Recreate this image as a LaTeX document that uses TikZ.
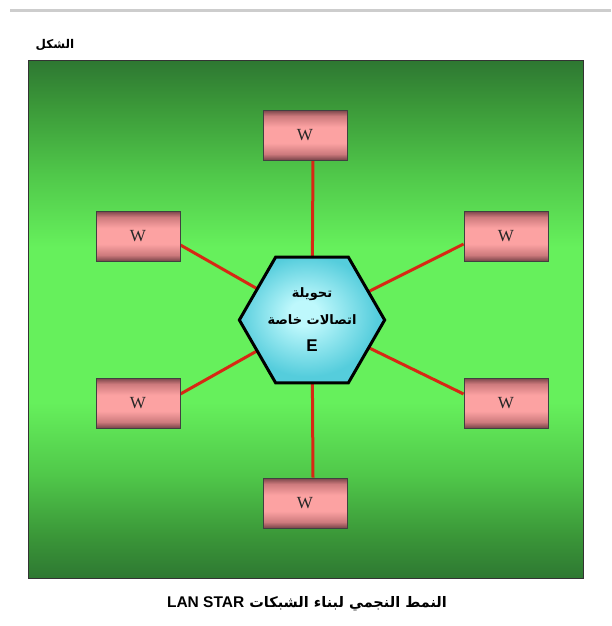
\documentclass[tikz,border=0pt]{standalone}
\usepackage{fontspec}
\usetikzlibrary{shapes.geometric,backgrounds}
\TeXXeTstate=1
\newfontfamily\arabicfont[Script=Arabic]{DejaVu Sans}
\newfontfamily\latinsans{Liberation Sans}
\setmainfont{Liberation Serif}
\definecolor{gA}{RGB}{102,240,92}
\definecolor{gB}{RGB}{80,200,74}
\definecolor{gC}{RGB}{58,150,56}
\definecolor{gD}{RGB}{46,120,50}
\definecolor{pD}{RGB}{120,68,72}
\definecolor{pM}{RGB}{205,122,125}
\definecolor{pL}{RGB}{252,162,162}
\definecolor{cA}{RGB}{190,248,252}
\definecolor{cB}{RGB}{85,205,220}
\definecolor{linkred}{RGB}{215,40,20}
\definecolor{topgray}{RGB}{205,205,205}
\pgfdeclareverticalshading{bgshade}{100bp}{color(0bp)=(gD); color(25bp)=(gD); color(29bp)=(gC); color(35bp)=(gB); color(42bp)=(gA); color(57bp)=(gA); color(64bp)=(gB); color(71bp)=(gC); color(75bp)=(gD); color(100bp)=(gD)}
\pgfdeclareverticalshading{boxshade}{100bp}{color(0bp)=(pD); color(25bp)=(pD); color(31bp)=(pM); color(42bp)=(pL); color(58bp)=(pL); color(69bp)=(pM); color(75bp)=(pD); color(100bp)=(pD)}
\pgfdeclareradialshading{hexshade}{\pgfpoint{-3bp}{3bp}}{color(0bp)=(cA); color(5bp)=(cA); color(24bp)=(cB); color(50bp)=(cB)}
\tikzset{
  wbox/.style={draw=black!75, line width=0.8pt, shading=boxshade, minimum width=84pt, minimum height=50pt, inner sep=0pt, font=\fontsize{17}{17}\selectfont, text=black!85},
  hexnode/.style={regular polygon, regular polygon sides=6, minimum size=134pt, inner sep=0pt, draw=black, line width=3pt, shading=hexshade, align=center, font=\arabicfont\bfseries\fontsize{13}{27}\selectfont},
  link/.style={draw=linkred, line width=3pt}
}
\begin{document}
\begin{tikzpicture}[x=1pt,y=-1pt]
\useasboundingbox (0,0) rectangle (611,626);
\node[hexnode] (hex) at (312,320) {\beginR تحويلة\endR\\\beginR اتصالات خاصة\endR\\{\latinsans\bfseries\fontsize{17}{17}\selectfont E}};
\node[wbox] (top) at (305,135) {W};
\node[wbox] (lt) at (138,236) {W};
\node[wbox] (rt) at (506,236) {W};
\node[wbox] (lb) at (138,403) {W};
\node[wbox] (rb) at (506,403) {W};
\node[wbox] (bot) at (305,503) {W};
\node (title) at (55,45) {\arabicfont\bfseries\fontsize{12}{12}\selectfont\beginR الشكل\endR};
\node (caption) at (307,604) {\arabicfont\bfseries\fontsize{14.5}{14.5}\selectfont\beginR النمط النجمي لبناء الشبكات \beginL{\latinsans\bfseries\fontsize{15.5}{15.5}\selectfont LAN STAR}\endL\endR};
\begin{pgfonlayer}{background}
\fill[white] (0,0) rectangle (611,626);
\draw[topgray, line width=3pt] (10,11) -- (611,11);
\node[draw=black!80, line width=1pt, shading=bgshade, minimum width=555pt, minimum height=517pt, inner sep=0pt] (bg) at (305.5,319.5) {};
\draw[link] (hex.center) -- ([xshift=8pt]top.south);
\draw[link] (hex.center) -- ([xshift=8pt]bot.north);
\draw[link] (hex.center) -- ([yshift=-9pt]lt.east);
\draw[link] (hex.center) -- ([yshift=9pt]lb.east);
\draw[link] (hex.center) -- ([yshift=-8pt]rt.west);
\draw[link] (hex.center) -- ([yshift=9pt]rb.west);
\end{pgfonlayer}
\end{tikzpicture}
\end{document}
